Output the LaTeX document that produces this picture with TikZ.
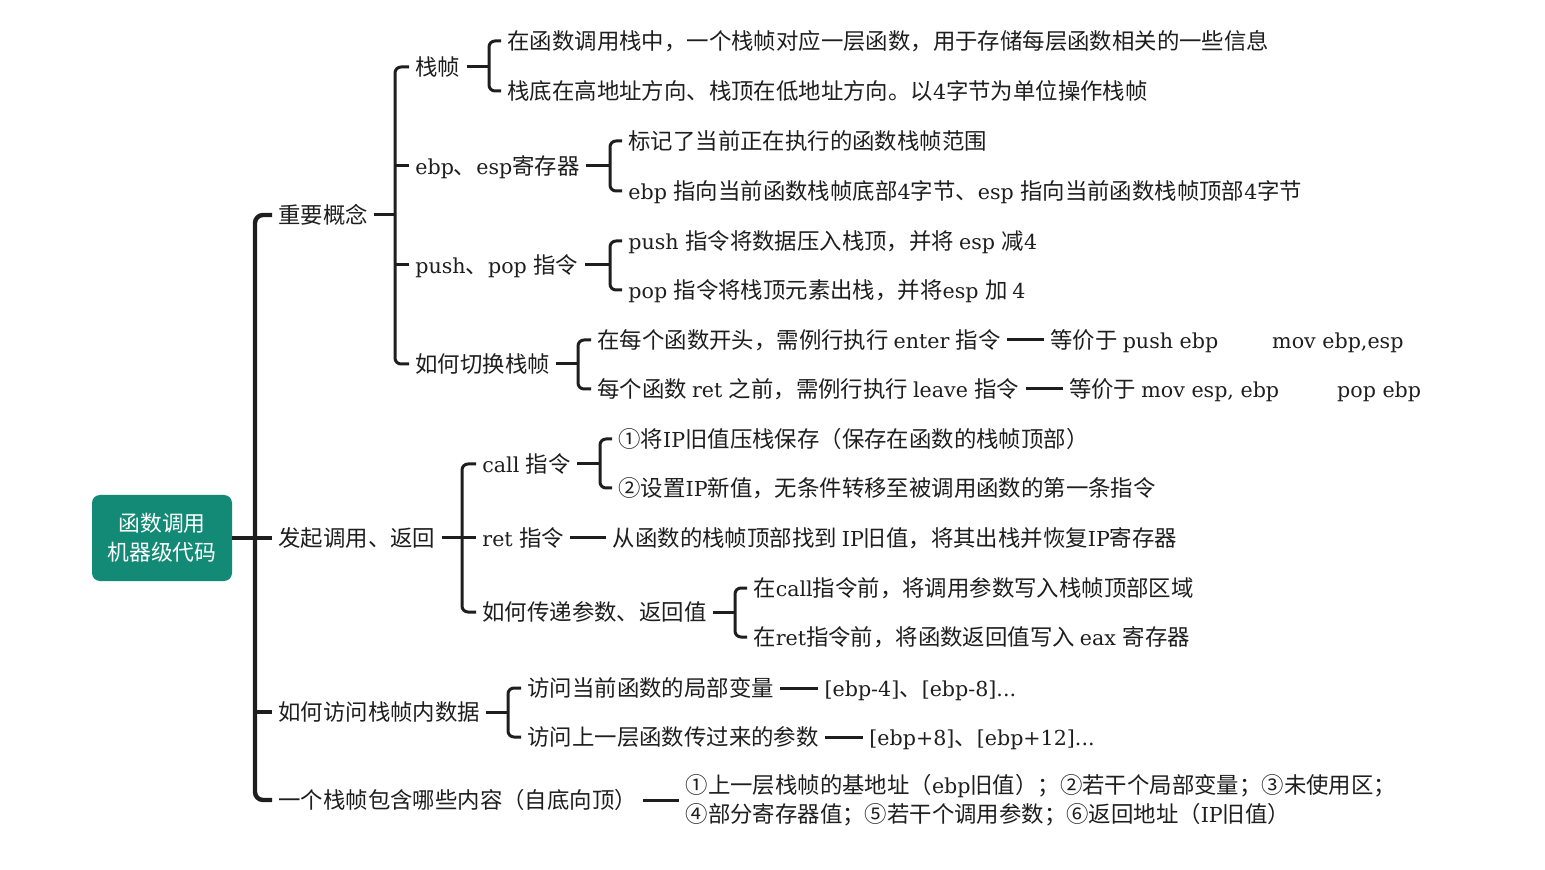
\documentclass[tikz,border=0pt]{standalone}
\usepackage{fontspec}
\setmainfont{DejaVu Serif}[Scale=0.92]
\newfontfamily\latin{DejaVu Serif}[Scale=0.92]
\newfontfamily\cjk{Noto Sans CJK SC}
\usetikzlibrary{positioning}

% switch to the CJK font for Chinese characters, back to serif for the rest
\XeTeXinterchartokenstate=1
\newXeTeXintercharclass\cjkclass
\newcount\cjkcode
\newcommand\cjkrange[2]{%
  \cjkcode=#1
  \loop
    \XeTeXcharclass\cjkcode=\cjkclass
    \advance\cjkcode by 1
  \ifnum\cjkcode<#2 \repeat}
\cjkrange{"2460}{"2500}
\cjkrange{"3000}{"3040}
\cjkrange{"4E00}{"A000}
\cjkrange{"FF00}{"FFF0}
\XeTeXinterchartoks 0 \cjkclass = {\cjk}
\XeTeXinterchartoks 4095 \cjkclass = {\cjk}
\XeTeXinterchartoks \cjkclass 0 = {\latin}
\XeTeXinterchartoks 4095 0 = {\latin}

\definecolor{rootteal}{HTML}{138A76}
\definecolor{ink}{HTML}{1E1E1E}

\begin{document}
\begin{tikzpicture}[x=0.5pt, y=-0.5pt, node distance=18pt,
    item/.style={anchor=west, inner xsep=3pt, inner ysep=0pt,
        text height=9.9pt, text depth=1.3pt, text=ink,
        font=\fontsize{11.2}{14.5}\selectfont},
    itemblock/.style={anchor=west, inner xsep=3pt, inner ysep=0pt,
        align=left, text=ink, font=\fontsize{11.2}{14.5}\selectfont},
    trunk/.style={draw=ink, line width=2.2pt, rounded corners=4pt},
    branch/.style={draw=ink, line width=1.5pt, rounded corners=3pt}]
    \useasboundingbox (0,0) rectangle (1545,870);

    \node[fill=rootteal, rounded corners=4pt, minimum width=70pt, minimum height=43pt,
        text=white, align=center, font=\fontsize{10.9}{14.5}\selectfont]
        (root) at (162,538) {函数调用\\机器级代码};

    % first level
    \node[item] (concept) at (272,215) {重要概念};
    \node[item] (callret) at (272,538) {发起调用、返回};
    \node[item] (access) at (272,712) {如何访问栈帧内数据};
    \node[item] (content) at (272,800) {一个栈帧包含哪些内容（自底向顶）};
    \coordinate (s1) at (255,538);
    \draw[trunk] (concept.west) -| (s1) |- (content.west);
    \draw[trunk] (root.east) -- (callret.west);
    \draw[trunk] (access.west) -- (access.west -| s1);

    % important concepts
    \node[item] (frame) at (409,67) {栈帧};
    \node[item] (regs) at (409,166) {ebp、esp寄存器};
    \node[item] (pushpop) at (409,265) {push、pop 指令};
    \node[item] (switch) at (409,364) {如何切换栈帧};
    \coordinate (s2) at (395,215);
    \draw[branch] (frame.west) -| (s2) |- (switch.west);
    \draw[branch] (concept.east) -- (s2);
    \foreach \n in {regs, pushpop}
        \draw[branch] (\n.west) -- (\n.west -| s2);

    \node[item] (f1) at (501,41) {在函数调用栈中，一个栈帧对应一层函数，用于存储每层函数相关的一些信息};
    \node[item] (f2) at (501,91) {栈底在高地址方向、栈顶在低地址方向。以4字节为单位操作栈帧};
    \coordinate (s3) at (489,66);
    \draw[branch] (f1.west) -| (s3) |- (f2.west);
    \draw[branch] (frame.east) -- (frame.east -| s3);

    \node[item] (r1) at (622,141) {标记了当前正在执行的函数栈帧范围};
    \node[item] (r2) at (622,191) {ebp 指向当前函数栈帧底部4字节、esp 指向当前函数栈帧顶部4字节};
    \coordinate (s4) at (610,166);
    \draw[branch] (r1.west) -| (s4) |- (r2.west);
    \draw[branch] (regs.east) -- (regs.east -| s4);

    \node[item] (p1) at (622,241) {push 指令将数据压入栈顶，并将 esp 减4};
    \node[item] (p2) at (622,290) {pop 指令将栈顶元素出栈，并将esp 加 4};
    \coordinate (s5) at (610,265);
    \draw[branch] (p1.west) -| (s5) |- (p2.west);
    \draw[branch] (pushpop.east) -- (pushpop.east -| s5);

    \node[item] (w1) at (591,340) {在每个函数开头，需例行执行 enter 指令};
    \node[item] (w2) at (591,389) {每个函数 ret 之前，需例行执行 leave 指令};
    \coordinate (s6) at (578,364);
    \draw[branch] (w1.west) -| (s6) |- (w2.west);
    \draw[branch] (switch.east) -- (switch.east -| s6);
    \node[item, right=18.5pt of w1] (eq1) {等价于 push ebp\hspace{27pt}mov ebp,esp};
    \node[item, right=18.5pt of w2] (eq2) {等价于 mov esp, ebp\hspace{29pt}pop ebp};
    \draw[branch] (w1.east) -- (eq1.west);
    \draw[branch] (w2.east) -- (eq2.west);

    % call and return
    \node[item] (call) at (476,464) {call 指令};
    \node[item] (ret) at (476,538) {ret 指令};
    \node[item] (param) at (476,612) {如何传递参数、返回值};
    \coordinate (s7) at (462,538);
    \draw[branch] (call.west) -| (s7) |- (param.west);
    \draw[branch] (callret.east) -- (ret.west);

    \node[item] (c1) at (612,439) {①将IP旧值压栈保存（保存在函数的栈帧顶部）};
    \node[item] (c2) at (612,488) {②设置IP新值，无条件转移至被调用函数的第一条指令};
    \coordinate (s8) at (600,464);
    \draw[branch] (c1.west) -| (s8) |- (c2.west);
    \draw[branch] (call.east) -- (call.east -| s8);

    \node[item, right=18pt of ret] (retdesc) {从函数的栈帧顶部找到 IP旧值，将其出栈并恢复IP寄存器};
    \draw[branch] (ret.east) -- (retdesc.west);

    \node[item] (a1) at (747,588) {在call指令前，将调用参数写入栈帧顶部区域};
    \node[item] (a2) at (747,637) {在ret指令前，将函数返回值写入 eax 寄存器};
    \coordinate (s9) at (735,612);
    \draw[branch] (a1.west) -| (s9) |- (a2.west);
    \draw[branch] (param.east) -- (param.east -| s9);

    % access inside a frame
    \node[item] (v1) at (521,688) {访问当前函数的局部变量};
    \node[item] (v2) at (521,737) {访问上一层函数传过来的参数};
    \coordinate (s10) at (508,712);
    \draw[branch] (v1.west) -| (s10) |- (v2.west);
    \draw[branch] (access.east) -- (access.east -| s10);
    \node[item, right=19pt of v1] (v1addr) {[ebp-4]、[ebp-8]...};
    \node[item, right=19pt of v2] (v2addr) {[ebp+8]、[ebp+12]...};
    \draw[branch] (v1.east) -- (v1addr.west);
    \draw[branch] (v2.east) -- (v2addr.west);

    % frame contents
    \node[itemblock, right=18pt of content] (layout)
        {①上一层栈帧的基地址（ebp旧值）；②若干个局部变量；③未使用区；\\
         ④部分寄存器值；⑤若干个调用参数；⑥返回地址（IP旧值）};
    \draw[branch] (content.east) -- (layout.west);
\end{tikzpicture}
\end{document}
